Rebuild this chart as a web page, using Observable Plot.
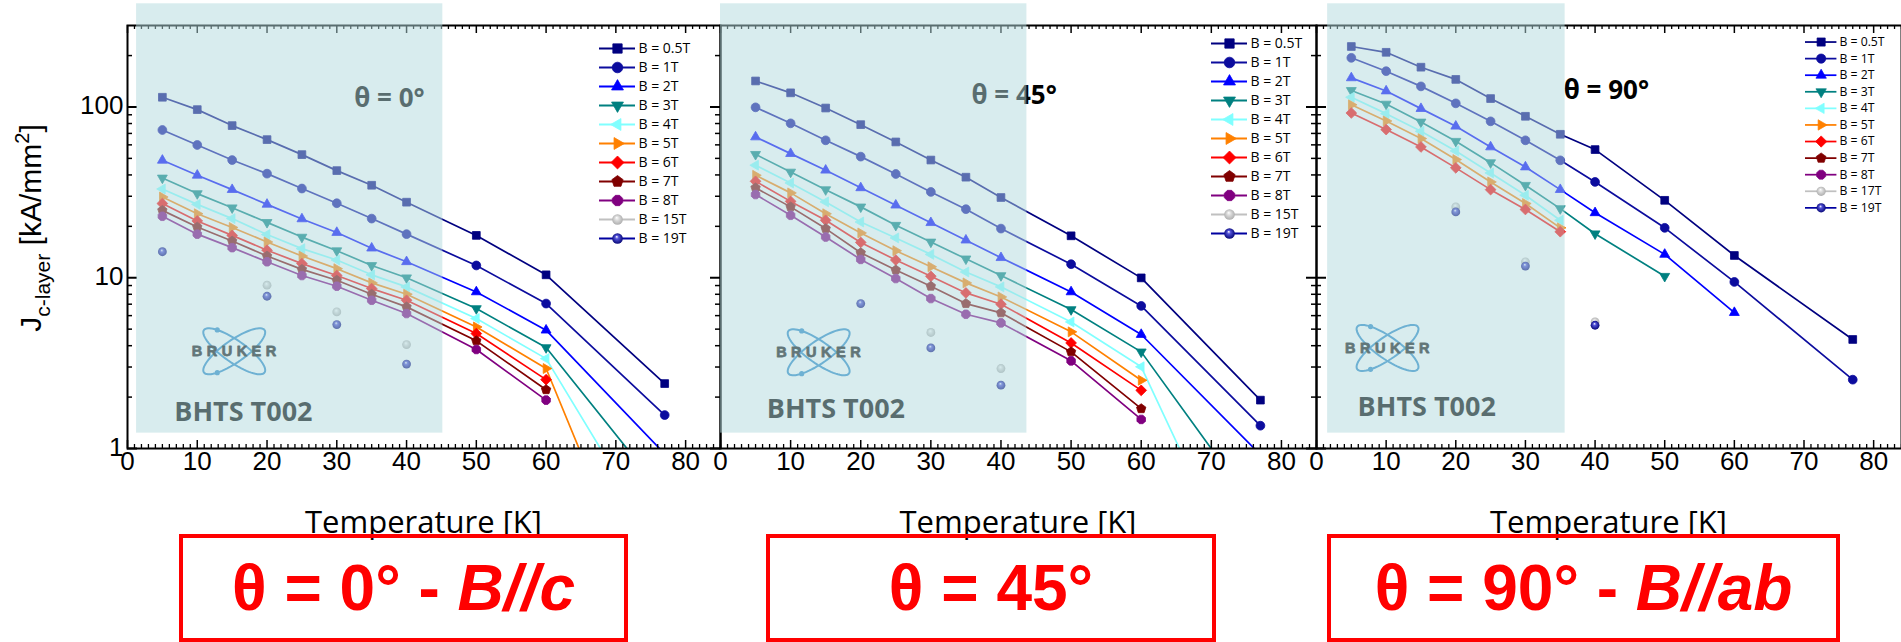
<!DOCTYPE html>
<html><head><meta charset="utf-8">
<script src="https://cdn.jsdelivr.net/npm/d3@7"></script>
<script src="https://cdn.jsdelivr.net/npm/@observablehq/plot@0.6"></script>
<style>
html,body{margin:0;padding:0;background:#fff;}
#root{position:relative;width:1901px;height:642px;overflow:hidden;background:#fff;font-family:"Liberation Sans",Arial,sans-serif;}
#root svg{overflow:visible;}
.abs{position:absolute;top:0;}
.xlabel{position:absolute;top:506px;height:31px;text-align:center;font-family:"Open Sans",sans-serif;font-size:31px;line-height:31px;color:#000;white-space:nowrap;}
.ylabel{position:absolute;left:-119px;top:213px;width:300px;height:30px;line-height:30px;font-size:30px;text-align:center;transform:rotate(-90deg);font-family:"Liberation Sans",Arial,sans-serif;white-space:nowrap;color:#000;}
.ylabel sub{font-size:21px;vertical-align:-9px;line-height:0;}
.ylabel sup{font-size:20px;vertical-align:12px;line-height:0;}
.box{position:absolute;top:534px;height:108px;box-sizing:border-box;border:4px solid #ff0000;display:flex;align-items:center;justify-content:center;font-family:"Liberation Sans",Arial,sans-serif;font-weight:bold;font-size:64px;line-height:64px;color:#ff0000;white-space:pre;}
text[aria-label="bruker"], g[aria-label="bruker"] text{letter-spacing:4.5px;}
</style>
</head><body>
<svg width="0" height="0" style="position:absolute">
<defs>
<radialGradient id="gBlue" cx="0.5" cy="0.5" r="0.55" fx="0.42" fy="0.32">
<stop offset="0" stop-color="#ffffff"/><stop offset="0.3" stop-color="#5252d8"/><stop offset="1" stop-color="#00006e"/>
</radialGradient>
<radialGradient id="gGray" cx="0.5" cy="0.5" r="0.55" fx="0.42" fy="0.32">
<stop offset="0" stop-color="#ffffff"/><stop offset="0.35" stop-color="#dcdcdc"/><stop offset="1" stop-color="#a9a9a9"/>
</radialGradient>
</defs></svg>
<div id="root"></div>
<script>
// ---------------- DATA ----------------
const temps = [5, 10, 15, 20, 25, 30, 35, 40, 50, 60, 70, 77];
const fieldLabels = ["B = 0.5T", "B = 1T", "B = 2T", "B = 3T", "B = 4T", "B = 5T", "B = 6T", "B = 7T", "B = 8T", "B = 15T", "B = 19T"];
const fieldLabels90 = ["B = 0.5T", "B = 1T", "B = 2T", "B = 3T", "B = 4T", "B = 5T", "B = 6T", "B = 7T", "B = 8T", "B = 17T", "B = 19T"];
const xTickLabels = [0, 10, 20, 30, 40, 50, 60, 70, 80];
const yTickLabels = [1, 10, 100];
const panelTitles = ["θ = 0°", "θ = 45°", "θ = 90°"];
const sampleName = "BHTS T002";
const logoName = "BRUKER";

// Jc-layer [kA/mm²] at the temperatures above (null = no point), theta = 0°
const jcTheta0 = [
  [114, 96.5, 77.8, 64.4, 52.6, 42.4, 34.8, 27.7, 17.7, 10.4, null, 2.40],
  [73.3, 59.9, 48.9, 40.7, 33.3, 27.3, 22.2, 18.0, 11.8, 7.06, null, 1.57],
  [48.7, 39.8, 32.8, 26.9, 22.1, 18.4, 14.9, 12.4, 8.26, 4.93, null, 0.93],
  [38.4, 31.1, 25.7, 21.1, 17.3, 14.4, 11.8, 10.0, 6.60, 3.90, null, 0.53],
  [33.1, 26.9, 22.2, 17.9, 14.8, 12.7, 10.4, 8.84, 5.77, 3.36, 0.71, null],
  [29.7, 23.7, 19.7, 16.2, 13.4, 11.3, 9.33, 8.01, 5.15, 2.94, 0.30, null],
  [27.2, 21.5, 17.7, 14.5, 12.1, 10.3, 8.64, 7.38, 4.71, 2.53, null, null],
  [24.8, 19.8, 16.4, 13.4, 11.2, 9.67, 8.01, 6.75, 4.27, 2.21, null, null],
  [22.9, 18.0, 15.0, 12.4, 10.3, 8.92, 7.38, 6.17, 3.80, 1.92, null, null],
  [null, null, null, 9.04, null, 6.31, null, 4.06, null, null, null, null],
  [14.2, null, null, 7.79, null, 5.32, null, 3.12, null, null, null, null]
];
// theta = 45°
const jcTheta45 = [
  [142, 121, 98.6, 78.8, 62.4, 48.9, 38.8, 29.5, 17.6, 9.98, null, 1.92],
  [99.5, 80.2, 63.8, 51.2, 40.5, 31.8, 25.2, 19.4, 12.0, 6.84, null, 1.36],
  [66.7, 53.3, 42.6, 33.6, 26.6, 21.0, 16.6, 13.1, 8.26, 4.65, null, 0.92],
  [52.8, 41.6, 32.8, 26.0, 20.3, 16.2, 12.9, 10.3, 6.51, 3.68, null, 0.40],
  [45.6, 35.9, 27.8, 21.2, 17.1, 13.7, 10.8, 8.84, 5.51, 3.01, 0.40, null],
  [39.8, 31.4, 23.7, 18.3, 14.4, 11.6, 9.33, 7.72, 4.82, 2.51, null, null],
  [36.7, 28.0, 21.7, 16.1, 12.7, 10.2, 8.15, 7.00, 4.15, 2.19, null, null],
  [33.6, 26.0, 19.4, 14.0, 11.1, 8.92, 7.06, 6.23, 3.68, 1.71, null, null],
  [30.7, 23.2, 17.3, 12.8, 9.89, 7.55, 6.11, 5.44, 3.26, 1.48, null, null],
  [null, null, null, null, null, 4.78, null, 2.94, null, null, null, null],
  [null, null, null, 7.06, null, 3.88, null, 2.35, null, null, null, null]
];
// theta = 90°
const jcTheta90 = [
  [226, 209, 171, 145, 112, 88.2, 69.2, 56.3, 28.4, 13.5, null, 4.35],
  [194, 162, 132, 105, 82.4, 63.8, 48.7, 36.4, 19.6, 9.45, null, 2.53],
  [148, 124, 97.8, 77.1, 58.3, 44.5, 32.8, 24.0, 13.7, 6.25, null, null],
  [125, 104, 81.7, 63.0, 47.2, 34.8, 25.4, 18.1, 10.2, null, null, null],
  [114, 91.4, 72.0, 55.3, 41.1, 30.4, 21.7, null, null, null, null, null],
  [103, 82.8, 65.3, 49.2, 36.4, 27.2, 19.6, null, null, null, null, null],
  [92.2, 73.7, 58.3, 44.0, 32.8, 25.1, 18.6, null, null, null, null, null],
  [null, null, null, null, null, null, null, null, null, null, null, null],
  [null, null, null, null, null, null, null, null, null, null, null, null],
  [null, null, null, 26.0, null, 12.4, null, 5.51, null, null, null, null],
  [null, null, null, 24.3, null, 11.7, null, 5.27, null, null, null, null]
];

// ---------------- STYLES ----------------
const seriesColors = ["#000080", "#0c0c9e", "#0000ff", "#008080", "#80ffff", "#ff8000", "#ff0000", "#800000", "#800080", "#c0c0c0", "#0000a0"];
const rad = s => Math.sqrt(s / Math.PI);
function poly(n, rot, k) {
  return {draw(c, s) {
    const r = rad(s) * k;
    for (let i = 0; i < n; i++) {
      const a = rot + 2 * Math.PI * i / n, x = r * Math.cos(a), y = r * Math.sin(a);
      i ? c.lineTo(x, y) : c.moveTo(x, y);
    }
    c.closePath();
  }};
}
const symSquare = {draw(c, s) { const r = rad(s) * 0.88; c.rect(-r, -r, 2 * r, 2 * r); }};
const symCircle = {draw(c, s) { const r = rad(s); c.moveTo(r, 0); c.arc(0, 0, r, 0, 2 * Math.PI); c.closePath(); }};
const symbols = [symSquare, symCircle, poly(3, -Math.PI / 2, 1.3), poly(3, Math.PI / 2, 1.3), poly(3, Math.PI, 1.3), poly(3, 0, 1.3),
  poly(4, -Math.PI / 2, 1.22), poly(5, -Math.PI / 2, 1.12), poly(8, Math.PI / 8, 1.05), symCircle, symCircle];
const fills = seriesColors.map((c, i) => i === 9 ? "url(#gGray)" : i === 10 ? "url(#gBlue)" : c);
const logoSym = {draw(c) {
  for (const deg of [35, -35]) {
    const t = deg * Math.PI / 180;
    const pt = a => [37 * Math.cos(a) * Math.cos(t) - 11 * Math.sin(a) * Math.sin(t), 37 * Math.cos(a) * Math.sin(t) + 11 * Math.sin(a) * Math.cos(t)];
    for (let i = 0; i <= 72; i++) { const [x, y] = pt(2 * Math.PI * i / 72); i ? c.lineTo(x, y) : c.moveTo(x, y); }
    const [dx, dy] = pt(deg > 0 ? 225 * Math.PI / 180 : 135 * Math.PI / 180);
    c.moveTo(dx + 1.6, dy); c.arc(dx, dy, 1.6, 0, 2 * Math.PI);
  }
}};

// annotation placements (data units)
const thetaPos = [{T: 32.5, J: 112}, {T: 35.8, J: 116}, {T: 35.5, J: 125}];
const samplePos = [{T: 6.7, J: 1.63}, {T: 6.6, J: 1.70}, {T: 5.9, J: 1.75}];
const logoPos = [{T: 15.3, J: 3.71}, {T: 14.0, J: 3.66}, {T: 10.2, J: 3.88}];
const shade = [{T1: 1.3, T2: 45.2, J1: 1.23, J2: 402}, {T1: 0, T2: 43.7, J1: 1.23, J2: 402}, {T1: 1.6, T2: 35.7, J1: 1.23, J2: 402}];

// ---------------- BUILD ----------------
const HEIGHT = 500, MT = 25, MB = 52;
const xMinor = d3.range(0, 86, 1).filter(d => d % 10 !== 0);
const xMajor = d3.range(0, 86, 10);
const yMinor = [2, 3, 4, 5, 6, 7, 8, 9, 20, 30, 40, 50, 60, 70, 80, 90, 200];

function panel(p, values, {width, marginLeft, xMax, leftTicks, rightTicks, yLabels}) {
  const W = width - marginLeft, H = HEIGHT - MT - MB;
  const marks = [];
  const series = values.map((row, s) => row.map((J, i) => ({T: temps[i], J, s})).filter(d => d.J != null));
  series.forEach((rows, s) => {
    if (s < 9 && rows.length) marks.push(Plot.line(rows, {x: "T", y: "J", stroke: seriesColors[s], strokeWidth: 1.7, clip: true}));
  });
  series.forEach((rows, s) => {
    if (rows.length) marks.push(Plot.dot(rows, {x: "T", y: "J", symbol: symbols[s], r: 4.4, fill: fills[s], stroke: s >= 9 ? "none" : seriesColors[s], strokeWidth: 0.8, clip: true}));
  });
  marks.push(Plot.text([thetaPos[p]], {x: "T", y: "J", text: () => panelTitles[p], textAnchor: "start", fontSize: 26, fontWeight: "bold", fontFamily: "Open Sans", fill: "black"}));
  marks.push(Plot.text([samplePos[p]], {x: "T", y: "J", text: () => sampleName, textAnchor: "start", fontSize: 27, fontWeight: "bold", fontFamily: "Open Sans", fill: "black"}));
  marks.push(Plot.dot([logoPos[p]], {x: "T", y: "J", symbol: logoSym, r: 4, fill: "none", stroke: "#2a88c8", strokeWidth: 2}));
  marks.push(Plot.text([logoPos[p]], {x: "T", y: "J", text: () => logoName, dx: 2, fontSize: 14.5, fontWeight: "bold", fontFamily: "Liberation Sans", fill: "#111", stroke: "#111", strokeWidth: 0.8, ariaLabel: () => "bruker"}));
  // axes frame and ticks
  marks.push(Plot.frame({stroke: "black", strokeWidth: 2}));
  const xm = xMinor.filter(d => d <= xMax), xM = xMajor.filter(d => d <= xMax);
  marks.push(Plot.tickX(xm, {x: d => d, insetTop: H - 4, stroke: "black", strokeWidth: 1.3}));
  marks.push(Plot.tickX(xM, {x: d => d, insetTop: H - 8, stroke: "black", strokeWidth: 1.5}));
  marks.push(Plot.tickX(xm, {x: d => d, insetBottom: H - 4, stroke: "black", strokeWidth: 1.3}));
  marks.push(Plot.tickX(xM, {x: d => d, insetBottom: H - 8, stroke: "black", strokeWidth: 1.5}));
  if (leftTicks) {
    marks.push(Plot.tickY(yMinor, {y: d => d, insetRight: W - 5, stroke: "black", strokeWidth: 1.5}));
    marks.push(Plot.tickY(yTickLabels, {y: d => d, insetRight: W - 10, stroke: "black", strokeWidth: 2}));
  }
  if (rightTicks) {
    marks.push(Plot.tickY(yMinor, {y: d => d, insetLeft: W - 5, stroke: "black", strokeWidth: 1.5}));
    marks.push(Plot.tickY(yTickLabels, {y: d => d, insetLeft: W - 10, stroke: "black", strokeWidth: 2}));
  }
  marks.push(Plot.text(xTickLabels, {x: d => d, frameAnchor: "bottom", dy: 21, text: d => String(d), fontSize: 26, fontFamily: "Liberation Sans", fill: "black"}));
  if (yLabels) marks.push(Plot.text(yTickLabels, {y: d => d, frameAnchor: "left", dx: -4, dy: -1, textAnchor: "end", text: d => String(d), fontSize: 26, fontFamily: "Liberation Sans", fill: "black"}));
  // translucent highlight band over the low-temperature region
  marks.push(Plot.rect([shade[p]], {x1: "T1", x2: "T2", y1: "J1", y2: "J2", fill: "#b1d9dd", fillOpacity: 0.5}));
  return Plot.plot({
    width, height: HEIGHT, marginLeft, marginRight: 0, marginTop: MT, marginBottom: MB,
    style: {background: "transparent", overflow: "visible"},
    x: {domain: [0, xMax], axis: null},
    y: {type: "log", domain: [1, 300], axis: null},
    marks
  });
}

function legend(labels, spacing) {
  const rows = labels.map((label, i) => ({label, i}));
  const marks = [];
  rows.forEach(r => {
    marks.push(Plot.ruleY([r], {y: "label", x1: 0, x2: 36, stroke: seriesColors[r.i], strokeWidth: 2}));
    marks.push(Plot.dot([r], {x: 18, y: "label", symbol: symbols[r.i], r: 5.3, fill: fills[r.i], stroke: r.i >= 9 ? "none" : seriesColors[r.i], strokeWidth: 0.8}));
  });
  marks.push(Plot.text(rows, {x: 39, y: "label", text: "label", textAnchor: "start", fontSize: 14, fontFamily: "Open Sans", fill: "black"}));
  return Plot.plot({
    width: 110, height: spacing * 10 + 20, marginTop: 10, marginBottom: 10, marginLeft: 0, marginRight: 0,
    style: {background: "transparent", overflow: "visible"},
    x: {domain: [0, 110], range: [0, 110], axis: null},
    y: {type: "point", domain: labels, padding: 0, axis: null},
    marks
  });
}

const root = document.getElementById("root");
function place(el, left, top) {
  const d = document.createElement("div");
  d.className = "abs"; d.style.left = left + "px"; d.style.top = top + "px";
  d.appendChild(el); root.appendChild(d);
}
place(panel(0, jcTheta0, {width: 720, marginLeft: 127, xMax: 85, leftTicks: true, rightTicks: true, yLabels: true}), 0, 0);
place(panel(1, jcTheta45, {width: 596, marginLeft: 0, xMax: 85, leftTicks: false, rightTicks: true, yLabels: false}), 720, 0);
place(panel(2, jcTheta90, {width: 585, marginLeft: 0, xMax: 84, leftTicks: true, rightTicks: false, yLabels: false}), 1316, 0);
place(legend(fieldLabels, 19.2), 599, 36.5);
place(legend(fieldLabels, 19.35), 1211, 30.7);
place(legend(fieldLabels90, 19.2), 1805, 31.5);

// y-axis title
const yl = document.createElement("div");
yl.className = "ylabel";
yl.innerHTML = "J<sub>c-layer</sub> [kA/mm<sup>2</sup>]";
root.appendChild(yl);
// x-axis titles
[[127, 593], [720, 596], [1316, 585]].forEach(([l, w]) => {
  const d = document.createElement("div");
  d.className = "xlabel"; d.style.left = l + "px"; d.style.width = w + "px";
  d.textContent = "Temperature [K]";
  root.appendChild(d);
});
// red caption boxes
const boxes = [[179, 449, "θ = 0° - ", "B//c"], [766, 450, "θ = 45°", ""], [1327, 513, "θ = 90° - ", "B//ab"]];
boxes.forEach(([l, w, a, b]) => {
  const d = document.createElement("div");
  d.className = "box"; d.style.left = l + "px"; d.style.width = w + "px";
  d.appendChild(document.createTextNode(a));
  if (b) { const i = document.createElement("i"); i.textContent = b; d.appendChild(i); }
  root.appendChild(d);
});
</script>
</body></html>
